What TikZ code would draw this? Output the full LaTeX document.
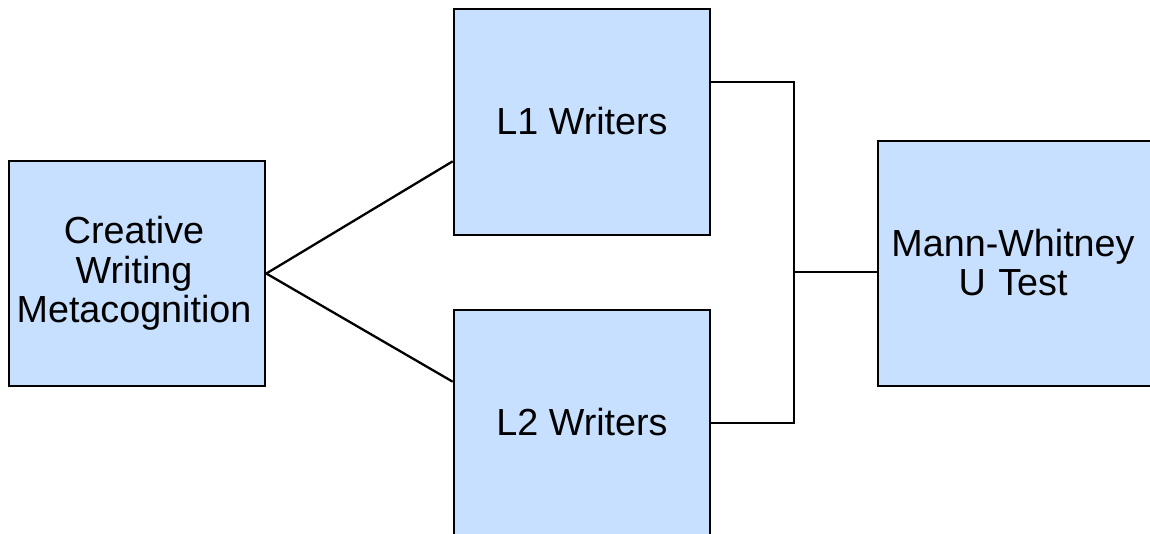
\documentclass[tikz,border=0pt]{standalone}
\usepackage{fontspec}
\setmainfont{Liberation Sans}
\definecolor{boxfill}{HTML}{C8E0FF}
\tikzset{
  box/.style={draw=black, line width=2.6pt, fill=boxfill, inner sep=0pt,
    align=center, font=\fontsize{37.7}{39.5}\selectfont},
  link/.style={draw=black, line width=2.3pt}
}
\begin{document}
\begin{tikzpicture}[x=1pt,y=-1pt]
\useasboundingbox (0,0) rectangle (1150,533);
\clip (0,0) rectangle (1150,533);
\node[box, minimum width=256pt, minimum height=225pt] (cwm) at (137,273.5) {\raisebox{3pt}{\parbox{250pt}{\centering\hspace*{-6pt}Creative\\\hspace*{-6pt}Writing\\\hspace*{-6pt}Metacognition}}};
\node[box, minimum width=256pt, minimum height=226pt] (l1) at (582,122) {\raisebox{2pt}{L1 Writers}};
\node[box, minimum width=256pt, minimum height=226pt] (l2) at (582,423) {\raisebox{3pt}{L2 Writers}};
\node[box, minimum width=276pt, minimum height=245pt, text width=270pt] (mw) at (1016,263.5) {\hspace*{-6pt}\raisebox{2pt}{Mann-Whitney}\\\hspace*{-6pt}\raisebox{2pt}{U Test}};
\coordinate (bt) at (794,82);
\coordinate (bb) at (794,423);
\coordinate (bj) at (794,272);
\draw[link] (cwm.east) -- ([yshift=75pt]l1.south west);
\draw[link] (cwm.east) -- ([yshift=-73pt]l2.north west);
\draw[link] ([yshift=40pt]l1.east) -- (bt) -- (bb) -- (l2.east);
\draw[link] (bj) -- (bj -| mw.west);
\end{tikzpicture}
\end{document}
